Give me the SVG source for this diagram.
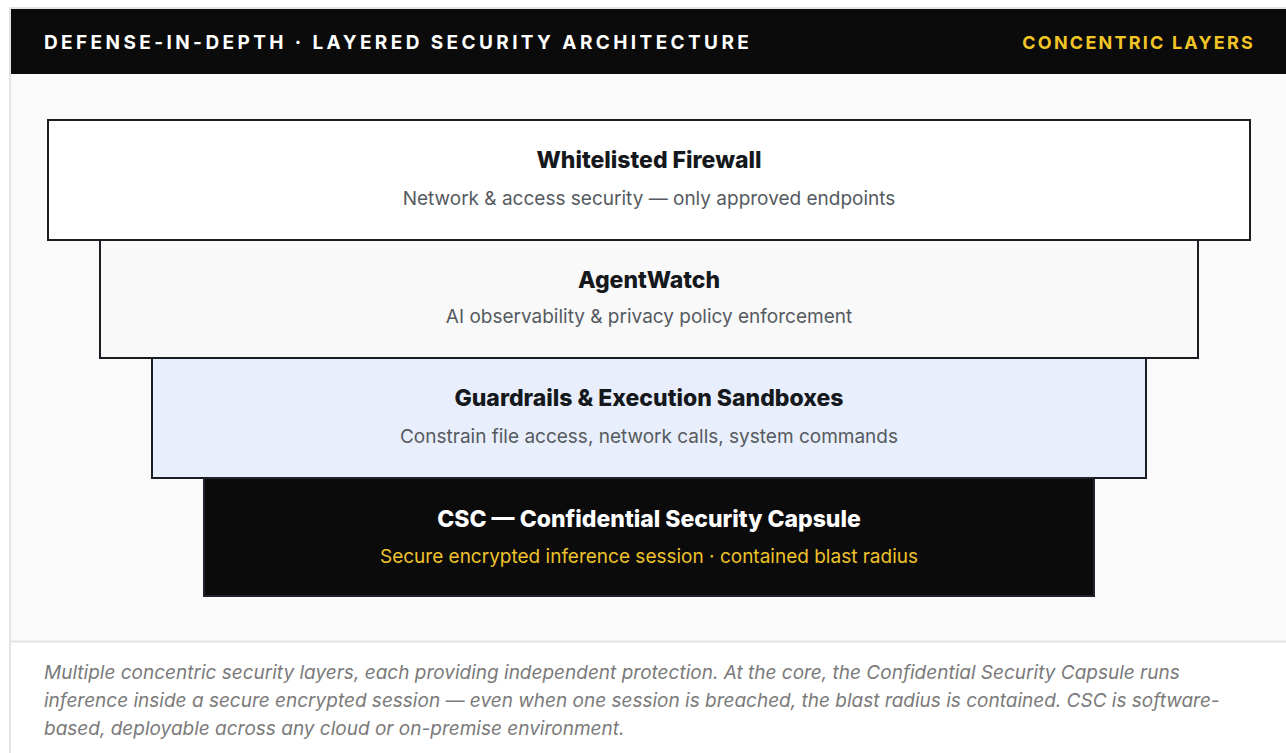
<svg xmlns="http://www.w3.org/2000/svg" width="1286" height="753" viewBox="0 0 1286 753">
  <style>
    .hdr { font-family: Inter, "Liberation Sans", sans-serif; font-weight: 700; font-size: 19px; }
    .title { font-family: Inter, "Liberation Sans", sans-serif; font-weight: 800; font-size: 23px; text-anchor: middle; fill: #15181c; }
    .sub { font-family: Inter, "Liberation Sans", sans-serif; font-size: 19px; text-anchor: middle; fill: #555a60; }
    .layer { stroke: #1a1d21; stroke-width: 2; }
    .note { font-family: Inter, "Liberation Sans", sans-serif; font-style: italic; font-size: 19px; fill: #7a7a7a; }
  </style>
  <rect x="0" y="0" width="1286" height="753" fill="#ffffff"/>
  <!-- card frame -->
  <rect x="10" y="8" width="1290" height="760" fill="#fafafa" stroke="#e3e3e3" stroke-width="2"/>
  <!-- header bar -->
  <rect x="11" y="9" width="1280" height="65" fill="#0b0b0b"/>
  <text class="hdr" x="44" y="49" fill="#ffffff" letter-spacing="3.4">DEFENSE-IN-DEPTH · LAYERED SECURITY ARCHITECTURE</text>
  <text class="hdr" x="1255" y="49" fill="#f2c526" text-anchor="end" letter-spacing="2.2" style="font-size:18px">CONCENTRIC LAYERS</text>
  <!-- footer -->
  <rect x="11" y="642" width="1280" height="120" fill="#ffffff"/>
  <line x1="11" y1="641.5" x2="1286" y2="641.5" stroke="#e3e3e3" stroke-width="2"/>

  <g id="layer-firewall">
    <rect class="layer" x="48" y="120" width="1202" height="120" fill="#ffffff"/>
    <text class="title" x="649" y="168">Whitelisted Firewall</text>
    <text class="sub" x="649" y="205">Network &amp; access security — only approved endpoints</text>
  </g>
  <g id="layer-agentwatch">
    <rect class="layer" x="100" y="240" width="1098" height="118" fill="#f9f9f9"/>
    <text class="title" x="649" y="288">AgentWatch</text>
    <text class="sub" x="649" y="323">AI observability &amp; privacy policy enforcement</text>
  </g>
  <g id="layer-guardrails">
    <rect class="layer" x="152" y="358" width="994" height="120" fill="#e8eefb"/>
    <text class="title" x="649" y="406">Guardrails &amp; Execution Sandboxes</text>
    <text class="sub" x="649" y="443">Constrain file access, network calls, system commands</text>
  </g>
  <g id="layer-csc">
    <rect x="204" y="478" width="890" height="118" fill="#0b0b0b" stroke="#20242a" stroke-width="2"/>
    <text class="title" x="649" y="527" style="fill:#ffffff">CSC — Confidential Security Capsule</text>
    <text class="sub" x="649" y="563" style="fill:#eec22a">Secure encrypted inference session · contained blast radius</text>
  </g>
  <g id="connectors"/>

  <text class="note" x="44" y="679">Multiple concentric security layers, each providing independent protection. At the core, the Confidential Security Capsule runs</text>
  <text class="note" x="44" y="707">inference inside a secure encrypted session — even when one session is breached, the blast radius is contained. CSC is software-</text>
  <text class="note" x="44" y="735">based, deployable across any cloud or on-premise environment.</text>
</svg>
